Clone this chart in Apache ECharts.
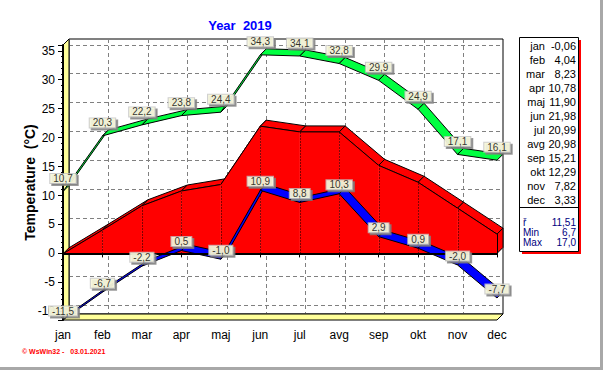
<!DOCTYPE html>
<html><head><meta charset="utf-8">
<script src="https://cdn.jsdelivr.net/npm/echarts@6/dist/echarts.min.js"></script>
<style>html,body{margin:0;padding:0;background:#fff}#c{width:603px;height:370px}</style>
</head><body><div id="c"></div>
<script>
const months = ['jan','feb','mar','apr','maj','jun','jul','avg','sep','okt','nov','dec'];
const maxT = [10.7,20.3,22.2,23.8,24.4,34.3,34.1,32.8,29.9,24.9,17.1,16.1];
const minT = [-11.5,-6.7,-2.2,0.5,-1.0,10.9,8.8,10.3,2.9,0.9,-2.0,-7.7];
const avgT = [-0.06,4.04,8.23,10.78,11.90,21.98,20.99,20.98,15.21,12.29,7.82,3.33];
const statLabels = ['ř','Min','Max'];
const statValues = ['11,51','6,7','17,0'];
const yMin = -11.5, yMax = 36;
const titleText = 'Year  2019';
const yName = 'Temperature  (°C)';
const footer = '© WsWin32 -   03.01.2021';

const W = 603, H = 370;
const G = {left: 63, right: 106, top: 45, bottom: 50};
const DX = 6, DY = -6;
const fmt1 = v => v.toFixed(1).replace('.', ',');
const fmt2 = v => v.toFixed(2).replace('.', ',');

function segData(arr){ const d=[]; for(let i=0;i<arr.length-1;i++) d.push([i, arr[i], arr[i+1]]); return d; }

function ribbon(color){
  return function(params, api){
    const i = api.value(0);
    const p0 = api.coord([i, api.value(1)]);
    const p1 = api.coord([i+1, api.value(2)]);
    return {type:'polygon', shape:{points:[p0,p1,[p1[0]+DX,p1[1]+DY],[p0[0]+DX,p0[1]+DY]]},
      style:{fill:color, stroke:'#000', lineWidth:1, lineJoin:'miter'}};
  };
}

const chart = echarts.init(document.getElementById('c'), null, {renderer:'svg', width:W, height:H});

const x0 = G.left, x1 = W - G.right, yt = G.top, yb = H - G.bottom;
const wallFill = '#FFFF99';
const graphics = [
  {type:'polygon', z:1, shape:{points:[[x0,yt],[x0+DX,yt+DY],[x0+DX,yb+DY],[x0,yb]]}, style:{fill:wallFill, stroke:'#000', lineWidth:1}},
  {type:'polygon', z:1, shape:{points:[[x0,yb],[x0+DX,yb+DY],[x1+DX,yb+DY],[x1,yb]]}, style:{fill:wallFill, stroke:'#000', lineWidth:1}},
  {type:'rect', z:1, shape:{x:522, y:40, width:59, height:214}, style:{fill:'#ff0000'}},
  {type:'rect', z:2, shape:{x:519.5, y:37.5, width:59, height:214}, style:{fill:'#fff', stroke:'#000', lineWidth:1}},
  {type:'line', z:3, shape:{x1:519.5, y1:207.5, x2:578.5, y2:207.5}, style:{stroke:'#000', lineWidth:1}},
  {type:'line', z:3, shape:{x1:601.5, y1:0, x2:601.5, y2:370}, style:{stroke:'#a8a8a8', lineWidth:3}},
  {type:'line', z:3, shape:{x1:0, y1:368.5, x2:603, y2:368.5}, style:{stroke:'#a8a8a8', lineWidth:3}},
  {type:'text', z:3, left:22, top:348, style:{text:footer, fill:'#ff0000', font:'bold 7px "Liberation Sans", Arial'}}
];
months.forEach((m, i) => {
  const y = 45.5 + i * 14.05;
  graphics.push({type:'text', z:3, x:545, y:y, style:{text:m, fill:'#000', font:'11px "Liberation Sans", Arial', align:'right', verticalAlign:'middle'}});
  graphics.push({type:'text', z:3, x:576, y:y, style:{text:fmt2(avgT[i]), fill:'#000', font:'11px "Liberation Sans", Arial', align:'right', verticalAlign:'middle'}});
});
statLabels.forEach((s, i) => {
  const y = 222.5 + i * 10;
  graphics.push({type:'text', z:3, x:523, y:y, style:{text:s, fill:'#000080', font:'10px "Liberation Sans", Arial', align:'left', verticalAlign:'middle'}});
  graphics.push({type:'text', z:3, x:576, y:y, style:{text:statValues[i], fill:'#000080', font:'10px "Liberation Sans", Arial', align:'right', verticalAlign:'middle'}});
});

const labelStyle = {
  show:true, position:'top', fontSize:10, fontFamily:'"Liberation Sans", Arial', color:'#000',
  backgroundColor:'#FFFFE1', borderColor:'#c0c0c0', borderWidth:1, padding:[0,3,0,3], lineHeight:9,
  shadowColor:'#808080', shadowOffsetX:2, shadowOffsetY:2, shadowBlur:0,
  formatter: p => fmt1(p.value)
};

const lastIdx = avgT.length - 1;

const option = {
  backgroundColor:'#fff',
  animation:false,
  title:{text:titleText, left:235, textAlign:'center', top:14, textStyle:{color:'#0000ff', fontSize:13, fontWeight:'bold', fontFamily:'"Liberation Sans", Arial'}},
  grid:[
    {left:G.left, right:G.right, top:G.top, bottom:G.bottom},
    {left:G.left+DX, right:G.right-DX, top:G.top+DY, bottom:G.bottom-DY, show:true, borderColor:'#000', borderWidth:1, backgroundColor:'transparent'}
  ],
  xAxis:[
    {type:'category', gridIndex:0, data:months, boundaryGap:false, z:10,
     axisLine:{lineStyle:{color:'#000', width:2}}, axisTick:{show:true, length:4, lineStyle:{color:'#000'}},
     axisLabel:{color:'#000', fontSize:12, fontFamily:'"Liberation Sans", Arial', margin:9}, splitLine:{show:false}},
    {type:'category', gridIndex:1, data:months, boundaryGap:false,
     axisLine:{show:false}, axisTick:{show:false}, axisLabel:{show:false},
     splitLine:{show:true, lineStyle:{color:'#808080', type:[4,3], width:1}}}
  ],
  yAxis:[
    {type:'value', gridIndex:0, min:yMin, max:yMax, splitNumber:10, z:10,
     name:yName, nameLocation:'middle', nameGap:26, nameRotate:90, nameMoveOverlap:false,
     nameTextStyle:{color:'#000', fontSize:14, fontWeight:'bold', fontFamily:'"Liberation Sans", Arial'},
     axisLine:{show:true, lineStyle:{color:'#000', width:2}}, axisTick:{show:true, length:5, lineStyle:{color:'#000'}},
     minorTick:{show:true, splitNumber:5, length:2, lineStyle:{color:'#000'}},
     axisLabel:{color:'#000', fontSize:12, fontFamily:'"Liberation Sans", Arial', margin:8, showMinLabel:false, showMaxLabel:false},
     splitLine:{show:false}},
    {type:'value', gridIndex:1, min:yMin, max:yMax, splitNumber:10,
     axisLine:{show:false}, axisTick:{show:false}, axisLabel:{show:false},
     splitLine:{show:true, lineStyle:{color:'#808080', type:[4,3], width:1}}}
  ],
  graphic:graphics,
  series:[
    // red top faces and right side face (behind)
    {type:'custom', z:2, xAxisIndex:0, yAxisIndex:0, data:avgT.map((v,i)=>[i, v, i<lastIdx?avgT[i+1]:0]),
     encode:{x:0, y:[1,2]}, clip:false,
     renderItem:function(params, api){
       const i = api.value(0);
       const p0 = api.coord([i, api.value(1)]);
       if (i === lastIdx){
         const pz = api.coord([i, 0]);
         return {type:'polygon', shape:{points:[p0,[p0[0]+DX,p0[1]+DY],[pz[0]+DX,pz[1]+DY],pz]}, style:{fill:'#ff0000', stroke:'#000', lineWidth:1}};
       }
       const p1 = api.coord([i+1, api.value(2)]);
       return {type:'polygon', shape:{points:[p0,p1,[p1[0]+DX,p1[1]+DY],[p0[0]+DX,p0[1]+DY]]}, style:{fill:'#ff0000', stroke:'#000', lineWidth:1}};
     }},
    // red front face with dotted drop lines and dotted base
    {type:'custom', z:3, xAxisIndex:0, yAxisIndex:0, data:avgT.map((v,i)=>[i, v, i<lastIdx?avgT[i+1]:v]),
     encode:{x:0, y:[1,2]}, clip:false,
     renderItem:function(params, api){
       const i = api.value(0);
       const a = api.coord([i, api.value(1)]);
       const az = api.coord([i, 0]);
       const xa = Math.round(az[0]) + 0.5, yz = Math.round(az[1]) + 0.5;
       const children = [];
       if (i < lastIdx){
         const b = api.coord([i+1, api.value(2)]);
         const bz = api.coord([i+1, 0]);
         children.push({type:'polygon', shape:{points:[az, a, b, bz]}, style:{fill:'#ff0000', stroke:'#ff0000', lineWidth:0.5}});
         children.push({type:'polyline', shape:{points:[a, b]}, style:{fill:null, stroke:'#000', lineWidth:1}});
         children.push({type:'polyline', shape:{points:[[xa, yz], [Math.round(bz[0]) + 0.5, yz]]}, style:{fill:null, stroke:'#000', lineWidth:1, lineDash:[1,2]}});
         if (i > 0) children.push({type:'polyline', shape:{points:[[xa, yz], [xa, a[1]]]}, style:{fill:null, stroke:'#000', lineWidth:1, lineDash:[1,2]}});
       } else {
         children.push({type:'polyline', shape:{points:[[xa, yz], [xa, a[1]]]}, style:{fill:null, stroke:'#000', lineWidth:1}});
       }
       return {type:'group', children:children};
     }},
    {type:'custom', z:5, xAxisIndex:0, yAxisIndex:0, data:segData(minT), encode:{x:0, y:[1,2]}, clip:false, renderItem:ribbon('#0000ff')},
    {type:'custom', z:6, xAxisIndex:0, yAxisIndex:0, data:segData(maxT), encode:{x:0, y:[1,2]}, clip:false, renderItem:ribbon('#00ff40')},
    {type:'scatter', z:10, xAxisIndex:0, yAxisIndex:0, data:minT, symbolSize:1, itemStyle:{color:'rgba(0,0,0,0)'},
     label:Object.assign({}, labelStyle, {distance:4})},
    {type:'scatter', z:11, xAxisIndex:0, yAxisIndex:0, data:maxT, symbolSize:1, itemStyle:{color:'rgba(0,0,0,0)'},
     label:Object.assign({}, labelStyle, {distance:8})}
  ]
};
chart.setOption(option);
</script></body></html>
